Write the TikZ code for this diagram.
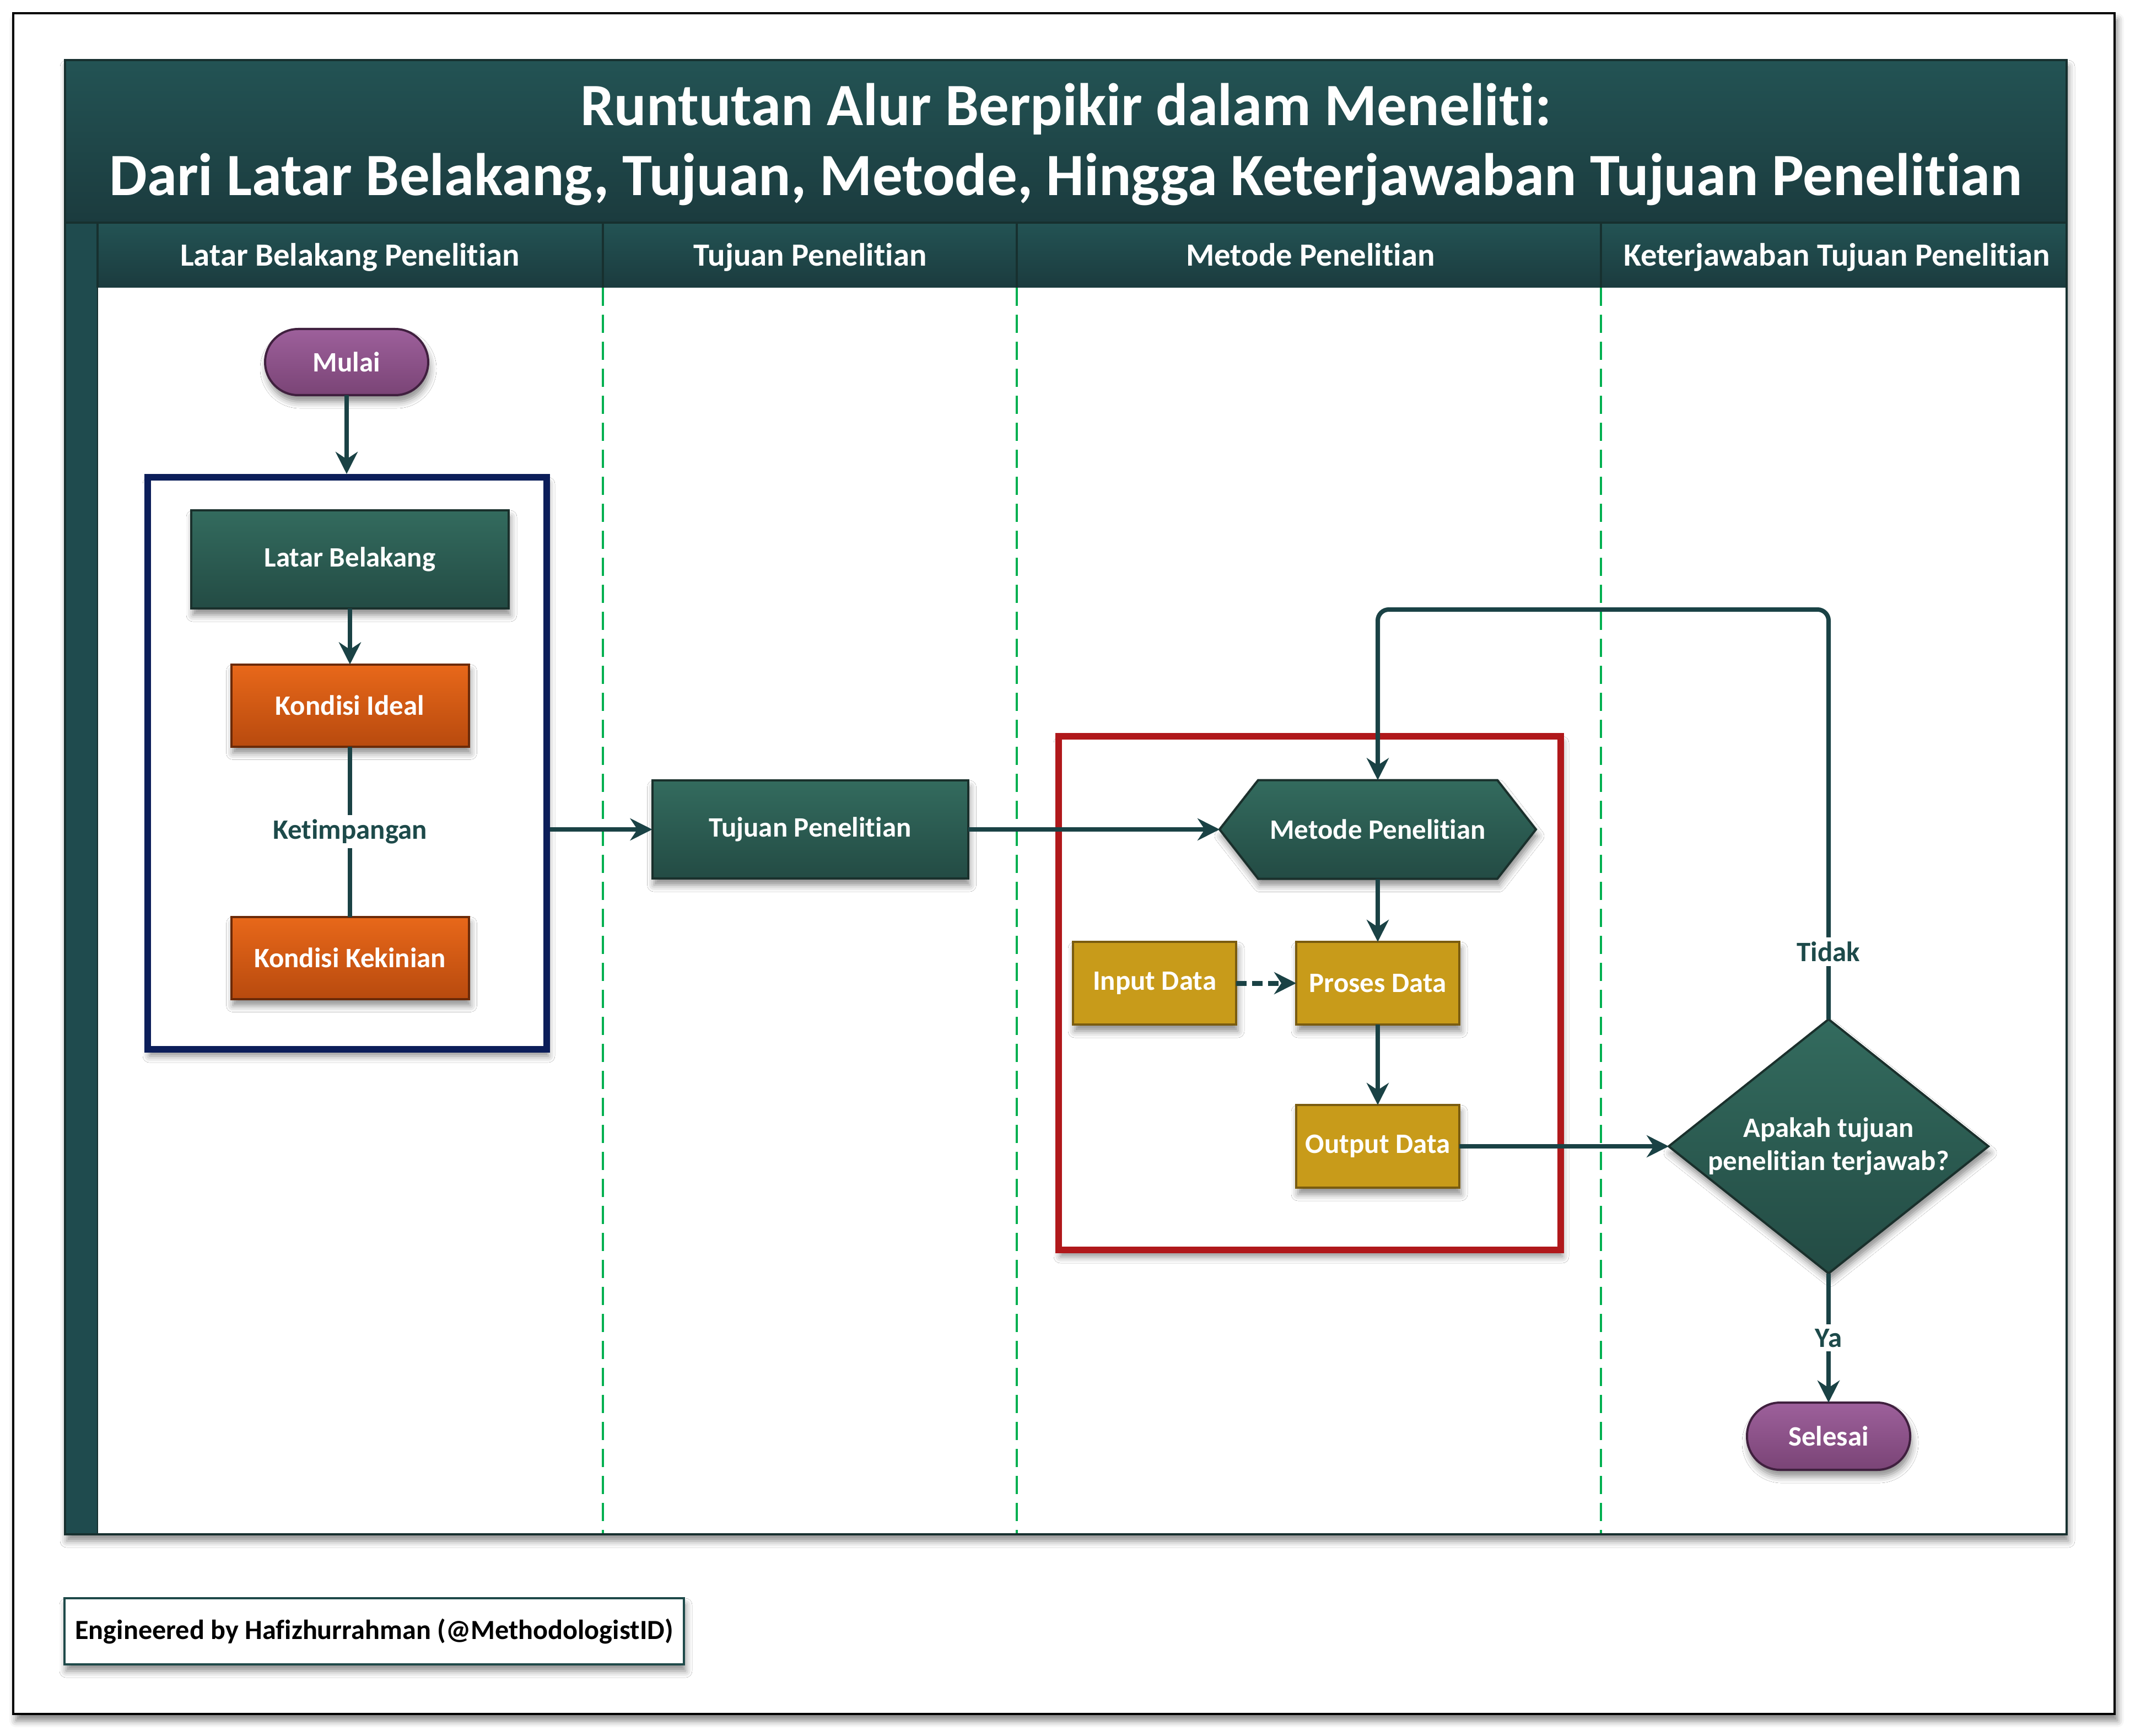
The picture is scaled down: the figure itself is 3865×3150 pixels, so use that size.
\documentclass[tikz,border=0pt]{standalone}
\usepackage{fontspec}
\setmainfont{Carlito}[Ligatures={NoCommon}]
\usetikzlibrary{arrows.meta,shadows.blur}
\definecolor{titletop}{HTML}{235354}
\definecolor{titlebot}{HTML}{1B3B3E}
\definecolor{panelline}{HTML}{17302F}
\definecolor{stripcol}{HTML}{1F4B4E}
\definecolor{lanegreen}{HTML}{00B050}
\definecolor{linecol}{HTML}{1A4245}
\definecolor{ngtop}{HTML}{336B5E}
\definecolor{ngbot}{HTML}{234B44}
\definecolor{ngborder}{HTML}{1A302C}
\definecolor{ortop}{HTML}{E8681A}
\definecolor{orbot}{HTML}{B84A0E}
\definecolor{orborder}{HTML}{6B2A08}
\definecolor{goldfill}{HTML}{C89B1A}
\definecolor{goldborder}{HTML}{7A5C10}
\definecolor{pptop}{HTML}{9D609B}
\definecolor{ppbot}{HTML}{7A4476}
\definecolor{ppborder}{HTML}{40203F}
\definecolor{boxnavy}{HTML}{0C1E5A}
\definecolor{boxred}{HTML}{B0181B}
\definecolor{lbltext}{HTML}{1D4A4A}
\definecolor{footborder}{HTML}{1F4A4A}
\begin{document}
\begin{tikzpicture}[x=0.1mm,y=-0.1mm,
  shadowed/.style={blur shadow={shadow xshift=0.3mm, shadow yshift=-1.2mm, shadow blur radius=1.2mm, shadow opacity=45}},
  base/.style={inner sep=0pt, outer sep=0pt, text=white, font=\fontsize{14.5}{17}\selectfont\bfseries, align=center},
  greenbox/.style={base, draw=ngborder, line width=0.4mm, top color=ngtop, bottom color=ngbot, shadowed},
  orangebox/.style={base, draw=orborder, line width=0.4mm, top color=ortop, bottom color=orbot, shadowed, minimum width=43.1mm, minimum height=14.9mm},
  goldbox/.style={base, draw=goldborder, line width=0.4mm, fill=goldfill, shadowed, minimum width=29.6mm, minimum height=15mm},
  termbox/.style={base, draw=ppborder, line width=0.4mm, top color=pptop, bottom color=ppbot, rounded corners=6mm, shadowed, minimum width=29.6mm, minimum height=12mm},
  anchorbox/.style={inner sep=0pt, outer sep=0pt},
  shapetext/.style={base},
  headtext/.style={text=white, font=\fontsize{16.7}{19}\selectfont\bfseries, anchor=base, inner sep=0pt},
  titletext/.style={text=white, font=\fontsize{31}{37}\selectfont\bfseries},
  lbl/.style={fill=white, text=lbltext, font=\fontsize{14.5}{17}\selectfont\bfseries, inner sep=0.8mm},
  conn/.style={draw=linecol, line width=0.8mm},
  arr/.style={conn, -{Stealth[length=4mm,width=4mm,inset=1.3mm]}},
  dasharr/.style={arr, line width=0.9mm, dash pattern=on 1.9mm off 1mm}
]
\useasboundingbox (0,0) rectangle (3865,3150);
% outer frame
\draw[line width=0.45mm, black, fill=white, blur shadow={shadow xshift=0.5mm, shadow yshift=-1.2mm, shadow blur radius=1.2mm, shadow opacity=50}] (24,24) rectangle (3837,3110);
% main panel
\fill[white, shadowed] (118,109) rectangle (3750,2784);
\shade[top color=titletop, bottom color=titlebot] (118,109) rectangle (3750,404);
\shade[top color=titletop, bottom color=titlebot] (177,404) rectangle (3750,522);
\fill[stripcol] (118,404) rectangle (177,2784);
\foreach \x in {1094,1845,2905}
  \draw[lanegreen, line width=0.4mm, dash pattern=on 3.3mm off 1.6mm] (\x,522) -- (\x,2784);
\foreach \x in {177,1094,1845,2905}
  \draw[panelline, line width=0.4mm] (\x,404) -- (\x,522);
\draw[panelline, line width=0.4mm] (118,404) -- (3750,404);
\draw[panelline, line width=0.2mm] (177,522) -- (177,2784);
\draw[panelline, line width=0.45mm] (118,109) rectangle (3750,2784);
% titles
\node[titletext] (t1) at (1934,198) {Runtutan Alur Berpikir dalam Meneliti:};
\node[titletext] (t2) at (1934,326) {Dari Latar Belakang, Tujuan, Metode, Hingga Keterjawaban Tujuan Penelitian};
\node[headtext] (h1) at (635,483) {Latar Belakang Penelitian};
\node[headtext] (h2) at (1470,483) {Tujuan Penelitian};
\node[headtext] (h3) at (2378,483) {Metode Penelitian};
\node[headtext] (h4) at (3333,483) {Keterjawaban Tujuan Penelitian};
% containers
\node[draw=boxnavy, line width=1.2mm, fill=white, minimum width=72.4mm, minimum height=103.8mm, inner sep=0pt, outer sep=0.6mm, shadowed] (bb) at (630,1385) {};
\node[draw=boxred, line width=1.2mm, fill=white, minimum width=91.1mm, minimum height=93.2mm, inner sep=0pt, outer sep=0.6mm, shadowed] (rb) at (2376.5,1802) {};
% nodes
\node[termbox] (mulai) at (629,657) {Mulai};
\node[greenbox, minimum width=57.6mm, minimum height=17.8mm] (lb) at (635,1015) {Latar Belakang};
\node[orangebox] (ki) at (635,1280) {Kondisi Ideal};
\node[orangebox] (kk) at (635,1738) {Kondisi Kekinian};
\node[greenbox, minimum width=57.3mm, minimum height=17.8mm] (tujuan) at (1470,1505) {Tujuan Penelitian};
\node[anchorbox, minimum width=57.4mm, minimum height=17.9mm] (metode) at (2500,1505) {};
\shade[top color=ngtop, bottom color=ngbot, draw=ngborder, line width=0.4mm, shadowed]
  (metode.west) -- ([xshift=7mm]metode.north west) -- ([xshift=-7mm]metode.north east)
  -- (metode.east) -- ([xshift=-7mm]metode.south east) -- ([xshift=7mm]metode.south west) -- cycle;
\node[shapetext] (metodetxt) at (metode) {Metode Penelitian};
\node[goldbox] (input) at (2095,1784) {Input Data};
\node[goldbox] (proses) at (2500,1784) {Proses Data};
\node[goldbox] (output) at (2500,2080) {Output Data};
\node[anchorbox, minimum width=58mm, minimum height=46.1mm] (dec) at (3318,2080) {};
\shade[top color=ngtop, bottom color=ngbot, draw=ngborder, line width=0.4mm, shadowed]
  (dec.west) -- (dec.north) -- (dec.east) -- (dec.south) -- cycle;
\node[shapetext] (dectxt) at (dec) {Apakah tujuan\\penelitian terjawab?};
\node[termbox, minimum height=12.2mm] (selesai) at (3318,2606) {Selesai};
% footer
\node[draw=footborder, line width=0.45mm, fill=white, minimum width=112.4mm, minimum height=12mm, font=\fontsize{14.3}{16}\selectfont\bfseries, text=black, shadowed] (foot) at (679,2960) {Engineered by Hafizhurrahman (@MethodologistID)};
% connectors
\coordinate (loop) at (3318,1106);
\draw[arr] (mulai.south) -- (mulai.south |- bb.north);
\draw[arr] (lb) -- (ki);
\draw[conn] (ki) -- node[lbl]{Ketimpangan} (kk);
\draw[arr] (bb.east |- tujuan) -- (tujuan);
\draw[arr] (tujuan) -- (metode.west);
\draw[arr] (metode.south) -- (proses);
\draw[dasharr] (input) -- (proses);
\draw[arr] (proses) -- (output);
\draw[arr] (output) -- (dec.west);
\draw[arr, rounded corners=2mm] (dec.north) -- node[lbl, pos=0.165]{Tidak} (loop) -- (metode.north |- loop) -- (metode.north);
\draw[arr] (dec.south) -- node[lbl]{Ya} (selesai);
\end{tikzpicture}
\end{document}
